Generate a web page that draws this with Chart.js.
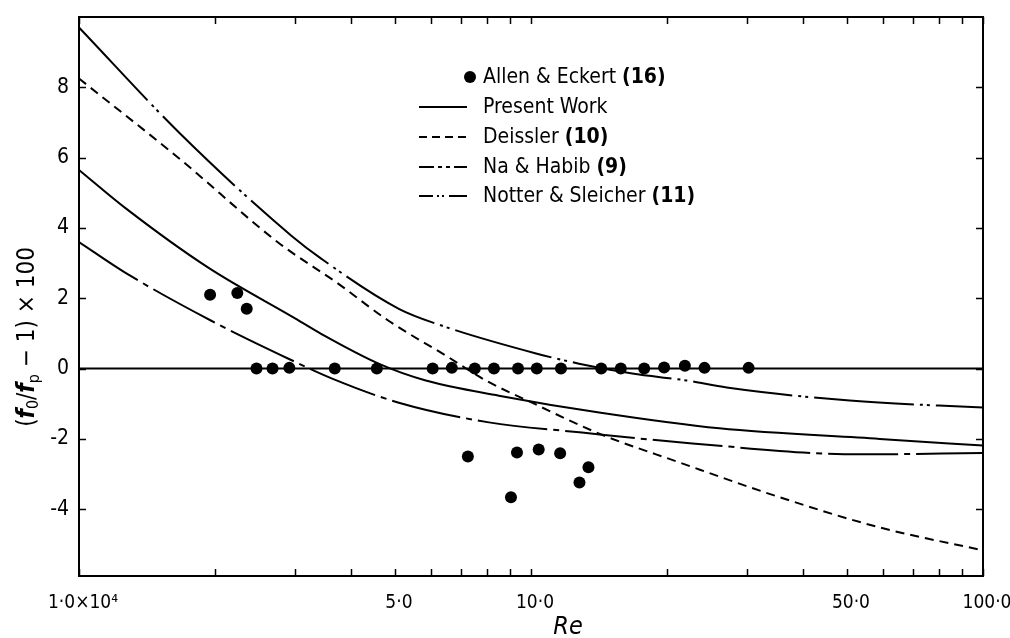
<!DOCTYPE html>
<html>
<head>
<meta charset="utf-8">
<script src="https://cdn.jsdelivr.net/npm/chart.js@4.4.0/dist/chart.umd.min.js"></script>
<style>
  html, body { margin: 0; padding: 0; background: #fff; }
  #wrap { width: 1010px; height: 638px; }
</style>
</head>
<body>
<div id="wrap"><canvas id="reChart" width="1010" height="638"></canvas></div>
<script>
// Re is kept in units of 10^4
const xTickValues = [1, 5, 10, 50, 100];
const xTickLabels = ['1·0×10⁴', '5·0', '10·0', '50·0', '100·0'];
const xMinorTicks = [2, 3, 4, 6, 7, 8, 9, 20, 30, 40, 60, 70, 80, 90];
const yTickValues = [-4, -2, 0, 2, 4, 6, 8];

// Allen & Eckert (16) measurements
const allenRe = [1.95, 2.24, 2.35, 2.47, 2.68, 2.92, 3.68, 4.56, 6.06, 6.68, 7.51, 8.28, 9.36, 10.3, 11.65,
                 14.3, 15.8, 17.8, 19.7, 21.9, 24.2, 30.3, 7.25, 9.03, 9.31, 10.4, 11.6, 12.8, 13.4];
const allenVal = [2.1, 2.15, 1.7, 0, 0, 0.02, 0, 0, 0, 0.02, 0, 0, 0, 0, 0,
                  0, 0, 0, 0.03, 0.08, 0.02, 0.02, -2.5, -3.66, -2.39, -2.3, -2.41, -3.24, -2.81];

// curves
const presentRe  = [1.0, 1.265, 1.932, 3.013, 3.44, 4.60, 5.85, 8.49, 14.15, 26.1, 59.1, 100];
const presentVal = [5.65, 4.57, 2.87, 1.42, 0.98, 0.14, -0.34, -0.77, -1.25, -1.70, -2.0, -2.19];

const deissRe  = [1.0, 1.675, 2.762, 3.75, 4.84, 6.48, 7.95, 10.05, 14.15, 21.3, 35.5, 59.1, 100];
const deissVal = [8.25, 5.95, 3.58, 2.41, 1.36, 0.37, -0.34, -0.97, -1.85, -2.67, -3.66, -4.52, -5.17];

const nahRe  = [1.0, 1.265, 1.962, 2.907, 3.62, 5.10, 8.07, 12.97, 22.75, 53.4, 100];
const nahVal = [3.6, 2.73, 1.36, 0.28, -0.28, -0.97, -1.53, -1.82, -2.13, -2.44, -2.4];

const notterRe  = [1.0, 1.675, 2.95, 3.44, 5.10, 6.25, 10.26, 12.77, 16.75, 22.1, 27.1, 50.7, 100];
const notterVal = [9.7, 6.68, 3.78, 3.12, 1.7, 1.25, 0.43, 0.14, -0.14, -0.34, -0.54, -0.91, -1.11];

const zeroRe  = [1, 100];
const zeroVal = [0, 0];

const FONT = "'Liberation Sans Narrow', 'DejaVu Sans Condensed', 'Liberation Sans', sans-serif";

function toXY(xs, ys) {
    return xs.map((x, i) => ({ x: x, y: ys[i] }));
}

function curve(label, xs, ys, dash) {
    return {
        label: label,
        data: toXY(xs, ys),
        showLine: true,
        borderColor: '#000',
        borderWidth: 2,
        borderDash: dash,
        pointRadius: 0,
        cubicInterpolationMode: 'monotone'
    };
}

// legend rows: label, bold part, legend dash (null = dot)
const legendRows = [
    { text: 'Allen & Eckert ', bold: '(16)', dash: null },
    { text: 'Present Work', bold: '', dash: [] },
    { text: 'Deissler ', bold: '(10)', dash: [8, 5] },
    { text: 'Na & Habib ', bold: '(9)', dash: [15, 4, 4, 4, 4, 4, 13] },
    { text: 'Notter & Sleicher ', bold: '(11)', dash: [14, 4, 2, 3, 2, 5, 18] }
];

// ====== FRAME, INNER TICKS, TITLES, LEGEND ======
const decorPlugin = {
    id: 'decor',
    afterDraw(chart) {
        const c = chart.ctx;
        const a = chart.chartArea;
        const xs = chart.scales.x;
        const ys = chart.scales.y;
        c.save();
        c.strokeStyle = '#000';
        c.lineWidth = 2;
        c.setLineDash([]);
        c.strokeRect(a.left, a.top, a.right - a.left, a.bottom - a.top);

        c.lineWidth = 1.5;
        xTickValues.concat(xMinorTicks).forEach(v => {
            const px = Math.round(xs.getPixelForValue(v)) + 0.5;
            c.beginPath();
            c.moveTo(px, a.bottom); c.lineTo(px, a.bottom - 7);
            c.moveTo(px, a.top); c.lineTo(px, a.top + 7);
            c.stroke();
        });
        yTickValues.forEach(v => {
            const py = Math.round(ys.getPixelForValue(v)) + 0.5;
            c.beginPath();
            c.moveTo(a.left, py); c.lineTo(a.left + 7, py);
            c.moveTo(a.right, py); c.lineTo(a.right - 7, py);
            c.stroke();
        });

        // x title
        c.fillStyle = '#000';
        c.font = 'italic 25px ' + FONT;
        c.textAlign = 'center';
        c.textBaseline = 'alphabetic';
        c.fillText('Re', 568, 634);

        // y title (f0/fp - 1) x 100
        const parts = [
            { t: '(', f: '24px ' + FONT, dy: 0 },
            { t: 'f', f: 'italic bold 24px ' + FONT, dy: 0 },
            { t: '0', f: '16px ' + FONT, dy: 4 },
            { t: '/', f: '24px ' + FONT, dy: 0 },
            { t: 'f', f: 'italic bold 24px ' + FONT, dy: 0 },
            { t: 'p', f: '16px ' + FONT, dy: 5 },
            { t: ' − 1) × 100', f: '24px ' + FONT, dy: 0 }
        ];
        let total = 0;
        parts.forEach(p => { c.font = p.f; p.w = c.measureText(p.t).width; total += p.w; });
        c.translate(26, 337);
        c.rotate(-Math.PI / 2);
        c.textAlign = 'left';
        let u = -total / 2;
        parts.forEach(p => {
            c.font = p.f;
            c.fillText(p.t, u, 8 + p.dy);
            u += p.w;
        });
        c.setTransform(1, 0, 0, 1, 0, 0);

        // legend
        const rowY = [77, 107, 137, 167, 196];
        legendRows.forEach((r, i) => {
            const y = rowY[i];
            if (r.dash === null) {
                c.beginPath();
                c.arc(470, y, 6, 0, Math.PI * 2);
                c.fill();
            } else {
                c.lineWidth = 2;
                c.setLineDash(r.dash);
                c.beginPath();
                c.moveTo(419, y); c.lineTo(467, y);
                c.stroke();
                c.setLineDash([]);
            }
            c.textBaseline = 'middle';
            c.font = '21px ' + FONT;
            c.fillText(r.text, 483, y + 1);
            if (r.bold) {
                const w = c.measureText(r.text).width;
                c.font = 'bold 21px ' + FONT;
                c.fillText(r.bold, 483 + w, y + 1);
            }
        });
        c.restore();
    }
};

const ctx = document.getElementById('reChart').getContext('2d');
const chart = new Chart(ctx, {
    type: 'scatter',
    data: {
        datasets: [
            curve('zero', zeroRe, zeroVal, []),
            curve('Present Work', presentRe, presentVal, []),
            curve('Deissler (10)', deissRe, deissVal, [9, 6]),
            curve('Na & Habib (9)', nahRe, nahVal, [70, 6, 6, 6]),
            curve('Notter & Sleicher (11)', notterRe, notterVal, [100, 6, 3, 4, 3, 6]),
            {
                label: 'Allen & Eckert (16)',
                data: toXY(allenRe, allenVal),
                showLine: false,
                pointRadius: 6,
                pointBackgroundColor: '#000',
                pointBorderColor: '#000',
                pointBorderWidth: 0
            }
        ]
    },
    options: {
        responsive: false,
        animation: false,
        devicePixelRatio: 1,
        layout: { padding: { left: 0, top: 17, right: 27, bottom: 0 } },
        plugins: {
            legend: { display: false },
            tooltip: { enabled: false }
        },
        scales: {
            x: {
                type: 'logarithmic',
                min: 1,
                max: 100,
                grid: { display: false, drawTicks: false },
                border: { display: false },
                afterBuildTicks: s => { s.ticks = xTickValues.map(v => ({ value: v })); },
                afterFit: s => {
                    s.height = 62;
                    s.paddingLeft = 0; s.paddingRight = 0;
                },
                ticks: {
                    autoSkip: false,
                    maxRotation: 0,
                    padding: 16,
                    labelOffset: 4,
                    color: '#000',
                    font: { family: FONT, size: 19 },
                    callback: (v, i) => xTickLabels[i]
                }
            },
            y: {
                min: -5.9,
                max: 10,
                grid: { display: false, drawTicks: false },
                border: { display: false },
                afterBuildTicks: s => { s.ticks = yTickValues.map(v => ({ value: v })); },
                afterFit: s => {
                    s.width = 79;
                    s.paddingTop = 0; s.paddingBottom = 0;
                },
                ticks: {
                    padding: 10,
                    color: '#000',
                    font: { family: FONT, size: 21 },
                    callback: v => String(v)
                }
            }
        }
    },
    plugins: [decorPlugin]
});
</script>
</body>
</html>
